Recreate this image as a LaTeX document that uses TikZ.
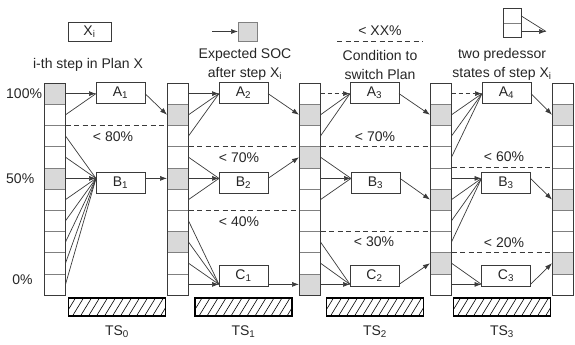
\documentclass[tikz,border=0pt]{standalone}
\usepackage{fontspec}
\setmainfont{Liberation Sans}
\usetikzlibrary{arrows.meta,calc}
\definecolor{socgray}{HTML}{D9D9D9}
\definecolor{cellline}{HTML}{808080}
\definecolor{frameline}{HTML}{3A3A3A}
\definecolor{ink}{HTML}{262626}
\begin{document}
\begin{tikzpicture}[x=1pt,y=-1pt,
  every node/.style={text=ink, font=\fontsize{14}{19}\selectfont},
  cell/.style={draw=cellline, fill=white, minimum width=21.5pt, minimum height=21.2pt, inner sep=0pt, outer sep=0pt, line width=0.6pt},
  frame/.style={draw=frameline, line width=0.9pt},
  stepbox/.style={draw=frameline, fill=white, minimum width=49pt, minimum height=21pt, inner sep=0pt, outer sep=0pt, line width=0.8pt},
  conn/.style={draw=frameline, line width=0.7pt},
  arr/.style={conn, -{Latex[length=7pt,width=5pt]}},
  cond/.style={draw=frameline, line width=0.8pt, dash pattern=on 5pt off 3.5pt},
  bar/.style={minimum width=97pt, minimum height=18pt, inner sep=0pt, outer sep=0pt},
  barframe/.style={draw=black, line width=1.6pt},
  hatch/.style={draw=black, line width=0.6pt},
  lbl/.style={inner sep=0pt, align=center}
]
\useasboundingbox (0,0) rectangle (575,345);

% ---------- columns ----------
\foreach \k/\x in {0/54.75,1/177.75,2/309.75,3/440.75,4/562.75} {
  \foreach \i in {0,...,9} {
    \node[cell] (c\k-\i) at (\x, 93.6+21.2*\i) {};
  }
}
\foreach \n in {c0-0,c0-4,c1-1,c1-4,c1-7,c2-1,c2-3,c2-9,c3-1,c3-5,c3-8,c4-1,c4-5,c4-8}
  \draw[cell, fill=socgray] (\n.north west) rectangle (\n.south east);
\foreach \k in {0,...,4}
  \draw[frame] (c\k-0.north west) rectangle (c\k-9.south east);

% ---------- percent labels ----------
\node[lbl, anchor=west] (p100) at (6,93.6) {100\%};
\node[lbl, anchor=west] (p50) at (6,178.4) {50\%};
\node[lbl] (p0) at (22.5,280) {0\%};

% ---------- step boxes ----------
\node[stepbox] (A1) at (120.5,92.5) {A\textsubscript{1}};
\node[stepbox] (B1) at (120.5,182.5) {B\textsubscript{1}};
\node[stepbox] (A2) at (243.5,92.5) {A\textsubscript{2}};
\node[stepbox] (B2) at (243.5,182.5) {B\textsubscript{2}};
\node[stepbox] (C1) at (243.5,276) {C\textsubscript{1}};
\node[stepbox] (A3) at (374.5,92.5) {A\textsubscript{3}};
\node[stepbox] (B3) at (375.5,182.5) {B\textsubscript{3}};
\node[stepbox] (C2) at (374.5,276) {C\textsubscript{2}};
\node[stepbox] (A4) at (506.5,92.5) {A\textsubscript{4}};
\node[stepbox] (B4) at (506,182.5) {B\textsubscript{3}};
\node[stepbox] (C3) at (506,276) {C\textsubscript{3}};

% ---------- TS0 ----------
\draw[conn] (c0-1.east) -- (A1.west |- c0-0);
\draw[arr] (c0-0.east) -- (A1.west |- c0-0);
\foreach \i in {2,3,5,6,7,8,9} \draw[conn] (c0-\i.east) -- (B1.west |- c0-4);
\draw[arr] (c0-4.east) -- (B1.west |- c0-4);
\draw[arr] (A1.east |- c0-0) -- (c1-1.west);
\draw[arr] (B1.east |- c0-4) -- (c1-4.west);

% ---------- TS1 ----------
\foreach \i in {1,2} \draw[conn] (c1-\i.east) -- (A2.west |- c1-0);
\draw[arr] (c1-0.east) -- (A2.west |- c1-0);
\foreach \i in {3,5} \draw[conn] (c1-\i.east) -- (B2.west |- c1-4);
\draw[arr] (c1-4.east) -- (B2.west |- c1-4);
\foreach \i in {6,7,8} \draw[conn] (c1-\i.east) -- (C1.west |- c1-9);
\draw[arr] (c1-9.east) -- (C1.west |- c1-9);
\draw[arr] (A2.east |- c1-0) -- (c2-1.west);
\draw[arr] (B2.east |- c1-4) -- (c2-3.west);
\draw[arr] (C1.east |- c1-9) -- (c2-9.west);

% ---------- TS2 ----------
\foreach \i in {1,2} \draw[conn] (c2-\i.east) -- (A3.west |- c2-0);
\draw[arr, dash pattern=on 4pt off 3pt] (c2-0.east) -- (A3.west |- c2-0);
\foreach \i in {3,5} \draw[conn] (c2-\i.east) -- (B3.west |- c2-4);
\draw[arr] (c2-4.east) -- (B3.west |- c2-4);
\foreach \i in {7,8} \draw[conn] (c2-\i.east) -- (C2.west |- c2-9);
\draw[arr] (c2-9.east) -- (C2.west |- c2-9);
\draw[arr] (A3.east |- c2-0) -- (c3-1.west);
\draw[arr] (B3.east |- c2-4) -- (c3-5.west);
\draw[arr] (C2.east |- c2-9) -- (c3-8.west);

% ---------- TS3 ----------
\foreach \i in {1,2,3} \draw[conn] (c3-\i.east) -- (A4.west |- c3-0);
\draw[arr, dash pattern=on 4pt off 3pt] (c3-0.east) -- (A4.west |- c3-0);
\foreach \i in {5,6,7} \draw[conn] (c3-\i.east) -- (B4.west |- c3-4);
\draw[arr] (c3-4.east) -- (B4.west |- c3-4);
\draw[conn] (c3-8.east) -- (C3.west |- c3-9);
\draw[arr] (c3-9.east) -- (C3.west |- c3-9);
\draw[arr] (A4.east |- c3-0) -- (c4-1.west);
\draw[arr] (B4.east |- c3-4) -- (c4-5.west);
\draw[arr] (C3.east |- c3-9) -- (c4-8.west);

% ---------- switching conditions ----------
\draw[cond] (c0-1.south east) -- (c1-1.south west);
\node[lbl] (t80) at (113,137) {< 80\%};
\draw[cond] (c1-2.south east) -- (c2-2.south west);
\node[lbl] (t70a) at (239,158) {< 70\%};
\draw[cond] (c1-5.south east) -- (c2-5.south west);
\node[lbl] (t40) at (239,222) {< 40\%};
\draw[cond] (c2-2.south east) -- (c3-2.south west);
\node[lbl] (t70b) at (375,137) {< 70\%};
\draw[cond] (c2-6.south east) -- (c3-6.south west);
\node[lbl] (t30) at (374,242) {< 30\%};
\draw[cond] (c3-3.south east) -- (c4-3.south west);
\node[lbl] (t60) at (504,157) {< 60\%};
\draw[cond] (c3-7.south east) -- (c4-7.south west);
\node[lbl] (t20) at (504,243) {< 20\%};

% ---------- time slots ----------
\foreach \n/\x in {0/117,1/243.5,2/375,3/502} {
  \node[bar] (bar\n) at (\x,307) {};
  \begin{scope}
    \clip (bar\n.south west) rectangle (bar\n.north east);
    \foreach \d in {-12,-4,...,100}
      \draw[hatch] ($(bar\n.south west)+(\d,0)$) -- ++(11,-18);
  \end{scope}
  \draw[barframe] (bar\n.south west) rectangle (bar\n.north east);
  \node[lbl] (ts\n) at (\x,332) {TS\textsubscript{\n}};
}

% ---------- legend ----------
\node[stepbox, minimum width=43pt, minimum height=19pt] (lgX) at (89.5,31.5) {X\textsubscript{i}};
\node[lbl] (lgXt) at (88,64.5) {i-th step in Plan X};

\coordinate (lgSs) at (212,31.5);
\node[cell, fill=socgray, minimum width=19pt, minimum height=19pt] (lgS) at (247.5,31.5) {};
\draw[arr] (lgSs) -- (lgS.west);
\node[lbl] (lgSt) at (245,64.5) {Expected SOC\\after step X\textsubscript{i}};

\node[lbl] (lgC) at (380,31) {< XX\%};
\coordinate (lgCa) at (337,41);
\coordinate (lgCb) at (423,41);
\draw[cond] (lgCa) -- (lgCb);
\node[lbl] (lgCt) at (380,64.5) {Condition to\\switch Plan};

\node[cell, minimum width=18pt, minimum height=14.5pt] (lgP1) at (512,15.8) {};
\node[cell, minimum width=18pt, minimum height=14.5pt] (lgP2) at (512,30.3) {};
\draw[frame] (lgP1.north west) rectangle (lgP2.south east);
\coordinate (lgtip) at (546,31.5);
\draw[conn] (lgP1.east) -- (lgtip);
\draw[arr] (lgP2.east |- lgtip) -- (lgtip);
\node[lbl] (lgPt) at (502,64.5) {two predessor\\states of step X\textsubscript{i}};
\end{tikzpicture}
\end{document}
